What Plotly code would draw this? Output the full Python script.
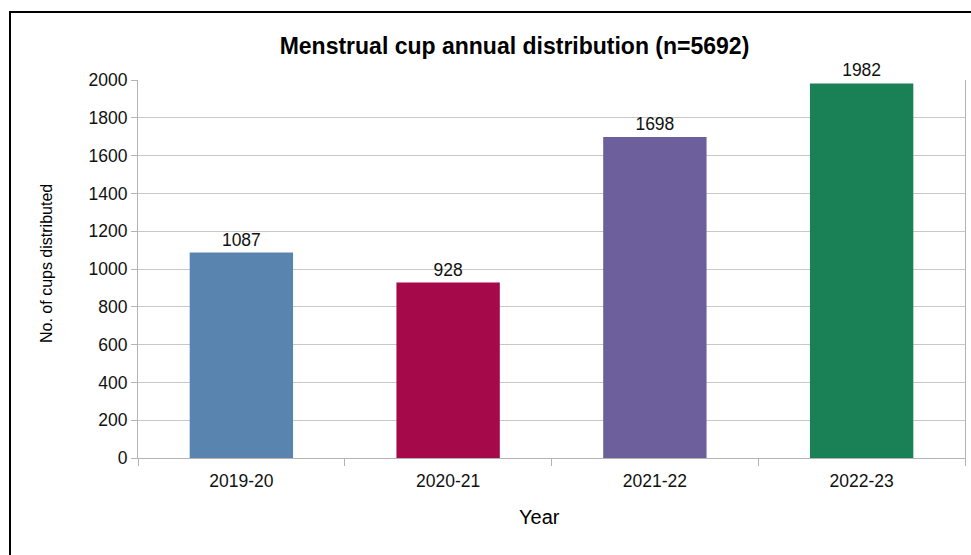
import plotly.graph_objects as go

years = ["2019-20", "2020-21", "2021-22", "2022-23"]
cups = [1087, 928, 1698, 1982]
bar_colors = ["#5a84b0", "#a5094a", "#6c5f9b", "#1a8056"]
y_ticks = list(range(0, 2001, 200))

W, H = 971, 555
L, R, T, B = 138, 6, 80, 97
pw, ph = W - L - R, H - T - B

fig = go.Figure(go.Bar(
    x=years, y=cups,
    marker=dict(color=bar_colors, line=dict(width=0)),
    text=[str(v) for v in cups], textposition="outside",
    textfont=dict(size=17.5, color="#111"),
    cliponaxis=False, width=0.5,
))

fnt = "Liberation Sans, Arial, sans-serif"
fig.update_layout(
    width=W, height=H,
    margin=dict(l=L, r=R, t=T, b=B, pad=0),
    paper_bgcolor="white", plot_bgcolor="white",
    font=dict(family=fnt, size=17.5, color="#111"),
    showlegend=False,
    title=dict(text="<b>Menstrual cup annual distribution (n=5692)</b>",
               x=514.5 / W, xref="container", xanchor="center",
               y=1 - 46 / H, yref="container", yanchor="middle",
               font=dict(size=23, color="#000")),
    xaxis=dict(showline=True, linecolor="#b3b3b3", linewidth=1,
               ticks="outside", ticklen=7, tickcolor="#b3b3b3",
               tickson="boundaries", showgrid=False, ticklabelstandoff=7,
               tickfont=dict(size=17.5, color="#111")),
    yaxis=dict(range=[0, 2000], tickvals=y_ticks,
               showline=True, linecolor="#b3b3b3", linewidth=1, mirror=True,
               ticks="outside", ticklen=6, tickcolor="#b3b3b3",
               gridcolor="#c8c8c8", gridwidth=1, zeroline=False,
               tickfont=dict(size=17.5, color="#111")),
    annotations=[
        dict(text="No. of cups distributed", textangle=-90,
             x=(46 - L) / pw, y=(H - B - 264) / ph, xref="paper", yref="paper",
             xanchor="center", yanchor="middle", showarrow=False,
             font=dict(size=16, color="#000")),
        dict(text="Year", x=(539 - L) / pw, y=(H - B - 517) / ph,
             xref="paper", yref="paper", xanchor="center", yanchor="middle",
             showarrow=False, font=dict(size=20, color="#000")),
    ],
    shapes=[dict(type="rect", xref="paper", yref="paper",
                 x0=(10 - L) / pw, x1=(W + 20 - L) / pw,
                 y0=(H - B - (H + 20)) / ph, y1=(H - B - 12) / ph,
                 line=dict(color="black", width=2), layer="above")],
)

fig.write_html("out.html", config={"displayModeBar": False},
               post_script="document.body.style.margin='0';document.body.style.overflow='hidden';")
